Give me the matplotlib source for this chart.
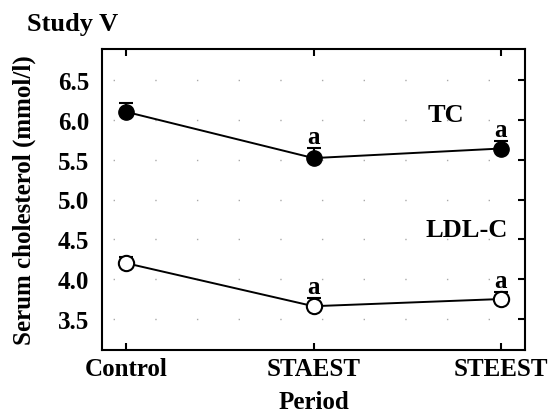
import matplotlib.pyplot as plt
import numpy as np

# Data (mean + upward SE bars)
periods = ['Control', 'STAEST', 'STEEST']
tc_mean = [6.10, 5.52, 5.64]
tc_se = [0.11, 0.13, 0.10]
ldl_mean = [4.20, 3.66, 3.75]
ldl_se = [0.08, 0.10, 0.09]
tc_sig = ['', 'a', 'a']
ldl_sig = ['', 'a', 'a']
yticks = [3.5, 4.0, 4.5, 5.0, 5.5, 6.0, 6.5]

plt.rcParams['font.family'] = ['Liberation Serif', 'DejaVu Serif']
plt.rcParams['font.weight'] = 'bold'

fig = plt.figure(figsize=(5.55, 4.14), dpi=100)
ax = fig.add_axes([102/555, 1 - 351/414, 423/555, 301/414])

x = np.arange(len(periods))

# Horizontal dotted grid
for yt in yticks:
    ax.axhline(yt, color='#aaaaaa', lw=1.0, ls=(22, (1, 29)), zorder=0)

# TC (filled)
ax.errorbar(x, tc_mean, yerr=[np.zeros(3), tc_se], fmt='none', ecolor='black',
            elinewidth=1.5, capsize=5, capthick=1.5, zorder=2)
ax.plot(x, tc_mean, color='black', lw=1.4, marker='o', markersize=11,
        markerfacecolor='black', markeredgecolor='black', zorder=3)

# LDL-C (open)
ax.errorbar(x, ldl_mean, yerr=[np.zeros(3), ldl_se], fmt='none', ecolor='black',
            elinewidth=1.5, capsize=5, capthick=1.5, zorder=2)
ax.plot(x, ldl_mean, color='black', lw=1.4, marker='o', markersize=11,
        markerfacecolor='white', markeredgecolor='black', markeredgewidth=1.5, zorder=3)

# significance letters
for i in range(3):
    if tc_sig[i]:
        ax.text(x[i], tc_mean[i] + tc_se[i] + 0.06, tc_sig[i], ha='center', va='baseline',
                fontsize=18, fontweight='bold')
    if ldl_sig[i]:
        ax.text(x[i], ldl_mean[i] + ldl_se[i] + 0.06, ldl_sig[i], ha='center', va='baseline',
                fontsize=18, fontweight='bold')

ax.text(1.705, 6.07, 'TC', ha='center', va='center', fontsize=19, fontweight='bold')
ax.text(1.82, 4.62, 'LDL-C', ha='center', va='center', fontsize=19, fontweight='bold')

ax.set_xlim(-0.13, 2.13)
ax.set_ylim(3.11, 6.89)
ax.set_xticks(x)
ax.set_xticklabels(periods, fontsize=18, fontweight='bold')
ax.set_yticks(yticks)
ax.set_yticklabels([f'{v:.1f}' for v in yticks], fontsize=18, fontweight='bold')

ax.tick_params(axis='x', direction='in', top=True, bottom=True, length=5, width=1.5, pad=5)
ax.tick_params(axis='y', direction='in', left=False, right=True, length=5, width=1.5, pad=9)
for sp in ax.spines.values():
    sp.set_linewidth(1.5)

ax.set_xlabel('Period', fontsize=18, fontweight='bold', labelpad=7)
ax.set_ylabel('Serum cholesterol (mmol/l)', fontsize=18, fontweight='bold', labelpad=16)

fig.text(27/555, 1 - 25/414, 'Study V', fontsize=19, fontweight='bold', va='center', ha='left')

fig.savefig('out.png', dpi=100)
